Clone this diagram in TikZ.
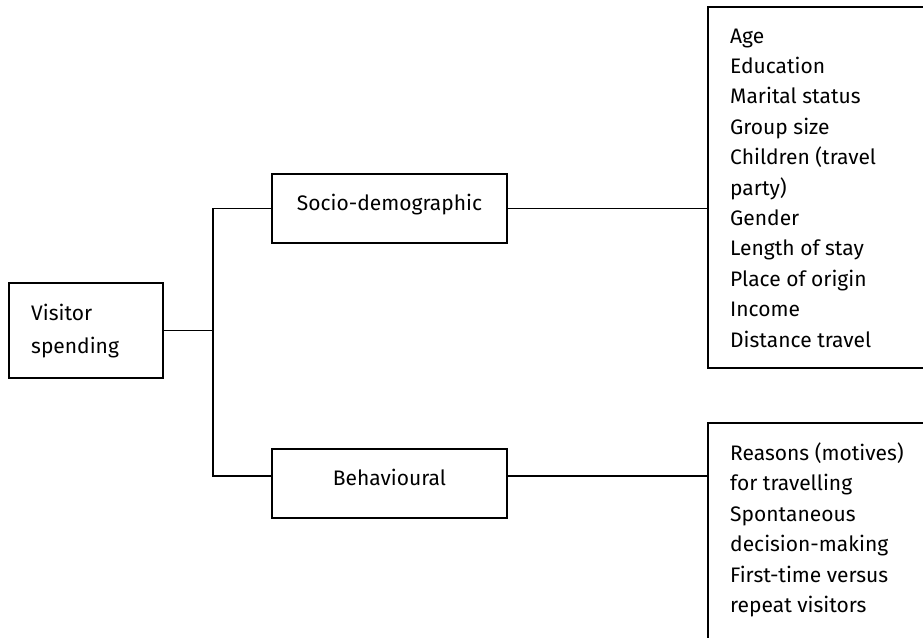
\documentclass[tikz,border=0pt]{standalone}
\usepackage{fontspec}
\setmainfont{Fira Sans}
\begin{document}
\begin{tikzpicture}[x=1pt,y=-1pt,
  box/.style={draw=black, line width=1.5pt, rectangle, inner sep=0pt, outer sep=0pt},
  lbl/.style={font=\fontsize{21}{30}\selectfont, text height=0.7em, text depth=0.3em},
  list/.style={font=\fontsize{21}{30.4}\selectfont, align=left, anchor=north west, inner sep=0pt},
  conn/.style={draw=black, line width=1.5pt}]
\useasboundingbox (0,0) rectangle (923,637);
\clip (0,0) rectangle (923,637);
% left box
\node[box, minimum width=154pt, minimum height=95pt, anchor=north west] (vs) at (9,283) {};
\node[list, font=\fontsize{21}{33}\selectfont] (vstext) at (31,303.5) {Visitor\\spending};
% middle boxes
\node[box, lbl, minimum width=235pt, minimum height=69pt, anchor=north west] (socio) at (272,174) {Socio-demographic};
\node[box, lbl, minimum width=235pt, minimum height=69pt, anchor=north west] (beh) at (272,449) {Behavioural};
% right boxes (cut by the page edges)
\node[box, minimum width=260pt, minimum height=361pt, anchor=north west] (demo) at (708,7) {};
\node[list] (demotext) at (730,28.5) {Age\\Education\\Marital status\\Group size\\Children (travel\\party)\\Gender\\Length of stay\\Place of origin\\Income\\Distance travel};
\node[box, minimum width=260pt, minimum height=260pt, anchor=north west] (behl) at (708,423) {};
\node[list] (behtext) at (730,442.5) {Reasons (motives)\\for travelling\\Spontaneous\\decision-making\\First-time versus\\repeat visitors};
% connectors
\coordinate (trunk) at (213,208.5);
\coordinate (bj) at ([yshift=7.5pt]beh.west);
\coordinate (bje) at ([yshift=7.5pt]beh.east);
\draw[conn] (socio.west) -- (trunk) -- (trunk |- bj) -- (bj);
\draw[conn] (vs.east) -- (vs.east -| trunk);
\draw[conn] (socio.east) -- (socio.east -| demo.west);
\draw[conn] (bje) -- (bje -| behl.west);
\end{tikzpicture}
\end{document}
